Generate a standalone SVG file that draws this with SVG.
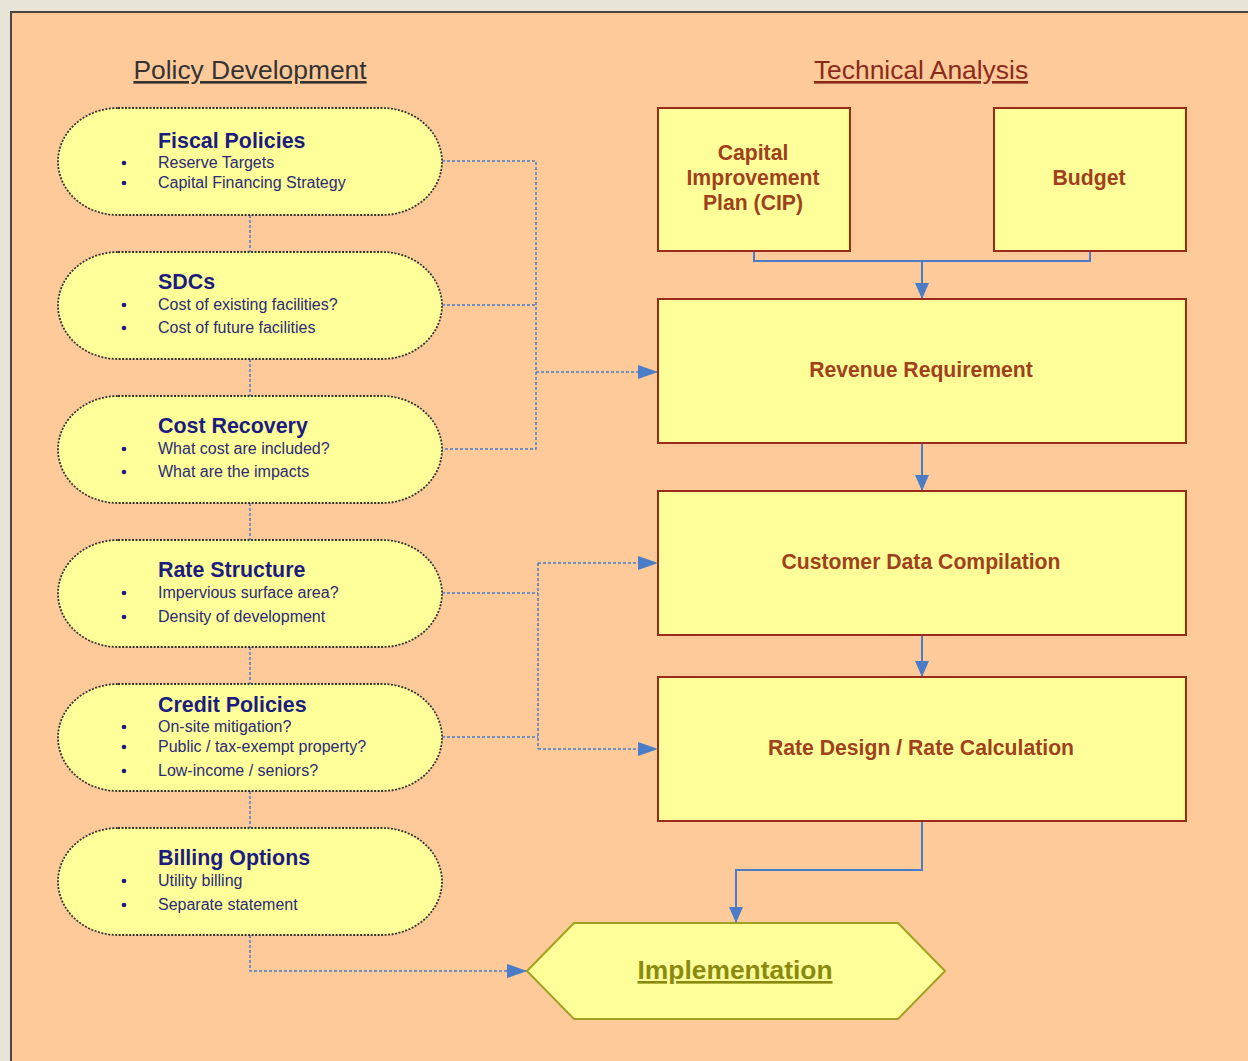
<svg xmlns="http://www.w3.org/2000/svg" width="1248" height="1061" viewBox="0 0 1248 1061">
<style>
.pill{fill:#ffff99;stroke:#333;stroke-width:1.8;stroke-dasharray:2 1.5}
.box{fill:#ffff99;stroke:#9c2a18;stroke-width:2}
.pt{font-family:"Liberation Sans",Arial,sans-serif;font-weight:bold;font-size:21.4px;fill:#1c1c80}
.pi{font-family:"Liberation Sans",Arial,sans-serif;font-size:16px;fill:#2a2a78}
.bt{font-family:"Liberation Sans",Arial,sans-serif;font-weight:bold;font-size:21.2px;fill:#a0401c;text-anchor:middle}
.hd{font-family:"Liberation Sans",Arial,sans-serif;font-size:26.4px;text-anchor:middle;text-decoration:underline}
.dash{fill:none;stroke:#4a7cc8;stroke-width:1.5;stroke-dasharray:3 2}
.solid{fill:none;stroke:#4a7cc8;stroke-width:2}
.dot{fill:#1c1c80}
</style>
<defs>
<marker id="ad" viewBox="0 0 20 14" refX="20" refY="7" markerWidth="20" markerHeight="14" markerUnits="userSpaceOnUse" orient="auto"><path d="M0,0 L20,7 L0,14 z" fill="#4a7cc8"/></marker>
<marker id="as" viewBox="0 0 16 14" refX="16" refY="7" markerWidth="16" markerHeight="14" markerUnits="userSpaceOnUse" orient="auto"><path d="M0,0 L16,7 L0,14 z" fill="#4a7cc8"/></marker>
</defs>
<rect x="0" y="0" width="1248" height="1061" fill="#e8e4d8"/>
<rect x="11" y="12" width="1250" height="1060" fill="#ffca99" stroke="#4a4440" stroke-width="2"/>

<text class="hd" x="250" y="79" fill="#333">Policy Development</text>
<text class="hd" x="921" y="79" fill="#8b2a1a">Technical Analysis</text>

<g id="connectors">
<path class="dash" d="M250,215 V252 M250,359 V396 M250,503 V540 M250,647 V684 M250,791 V828"/>
<path class="dash" d="M442,161 H536 V449 H442 M442,305 H536"/>
<path class="dash" d="M536,372 H658" marker-end="url(#ad)"/>
<path class="dash" d="M442,593 H538 M442,737 H538 M538,563 V749"/>
<path class="dash" d="M538,563 H658" marker-end="url(#ad)"/>
<path class="dash" d="M538,749 H658" marker-end="url(#ad)"/>
<path class="dash" d="M250,935 V971 H527" marker-end="url(#ad)"/>
<path class="solid" d="M754,251 V261 H1090 V251"/>
<path class="solid" d="M922,261 V299" marker-end="url(#as)"/>
<path class="solid" d="M922,443 V491" marker-end="url(#as)"/>
<path class="solid" d="M922,635 V677" marker-end="url(#as)"/>
<path class="solid" d="M922,821 V870 H736 V923" marker-end="url(#as)"/>
</g>

<g id="fiscal">
<rect class="pill" x="58" y="108" width="384" height="107" rx="60" ry="53.5"/>
<text class="pt" x="158" y="148">Fiscal Policies</text>
<circle class="dot" cx="124" cy="163" r="2.3"/><text class="pi" x="158" y="168">Reserve Targets</text>
<circle class="dot" cx="124" cy="183" r="2.3"/><text class="pi" x="158" y="188">Capital Financing Strategy</text>
</g>
<g id="sdcs">
<rect class="pill" x="58" y="252" width="384" height="107" rx="60" ry="53.5"/>
<text class="pt" x="158" y="289">SDCs</text>
<circle class="dot" cx="124" cy="305" r="2.3"/><text class="pi" x="158" y="310">Cost of existing facilities?</text>
<circle class="dot" cx="124" cy="328" r="2.3"/><text class="pi" x="158" y="333">Cost of future facilities</text>
</g>
<g id="costrecovery">
<rect class="pill" x="58" y="396" width="384" height="107" rx="60" ry="53.5"/>
<text class="pt" x="158" y="433">Cost Recovery</text>
<circle class="dot" cx="124" cy="449" r="2.3"/><text class="pi" x="158" y="454">What cost are included?</text>
<circle class="dot" cx="124" cy="472" r="2.3"/><text class="pi" x="158" y="477">What are the impacts</text>
</g>
<g id="ratestructure">
<rect class="pill" x="58" y="540" width="384" height="107" rx="60" ry="53.5"/>
<text class="pt" x="158" y="577">Rate Structure</text>
<circle class="dot" cx="124" cy="593" r="2.3"/><text class="pi" x="158" y="598">Impervious surface area?</text>
<circle class="dot" cx="124" cy="617" r="2.3"/><text class="pi" x="158" y="622">Density of development</text>
</g>
<g id="credit">
<rect class="pill" x="58" y="684" width="384" height="107" rx="60" ry="53.5"/>
<text class="pt" x="158" y="712">Credit Policies</text>
<circle class="dot" cx="124" cy="727" r="2.3"/><text class="pi" x="158" y="732">On-site mitigation?</text>
<circle class="dot" cx="124" cy="747" r="2.3"/><text class="pi" x="158" y="752">Public / tax-exempt property?</text>
<circle class="dot" cx="124" cy="771" r="2.3"/><text class="pi" x="158" y="776">Low-income / seniors?</text>
</g>
<g id="billing">
<rect class="pill" x="58" y="828" width="384" height="107" rx="60" ry="53.5"/>
<text class="pt" x="158" y="865">Billing Options</text>
<circle class="dot" cx="124" cy="881" r="2.3"/><text class="pi" x="158" y="886">Utility billing</text>
<circle class="dot" cx="124" cy="905" r="2.3"/><text class="pi" x="158" y="910">Separate statement</text>
</g>

<g id="cip">
<rect class="box" x="658" y="108" width="192" height="143"/>
<text class="bt" x="753" y="160">Capital</text>
<text class="bt" x="753" y="185">Improvement</text>
<text class="bt" x="753" y="210">Plan (CIP)</text>
</g>
<g id="budget">
<rect class="box" x="994" y="108" width="192" height="143"/>
<text class="bt" x="1089" y="185">Budget</text>
</g>
<g id="revenue">
<rect class="box" x="658" y="299" width="528" height="144"/>
<text class="bt" x="921" y="377">Revenue Requirement</text>
</g>
<g id="customer">
<rect class="box" x="658" y="491" width="528" height="144"/>
<text class="bt" x="921" y="569">Customer Data Compilation</text>
</g>
<g id="ratedesign">
<rect class="box" x="658" y="677" width="528" height="144"/>
<text class="bt" x="921" y="755">Rate Design / Rate Calculation</text>
</g>
<g id="implementation">
<polygon points="527,971 574,923 898,923 945,971 898,1019 574,1019" fill="#ffff99" stroke="#a0a020" stroke-width="2"/>
<text x="735" y="979" font-family="Liberation Sans, Arial, sans-serif" font-weight="bold" font-size="26.4px" fill="#8a8a10" text-anchor="middle" text-decoration="underline">Implementation</text>
</g>
</svg>
